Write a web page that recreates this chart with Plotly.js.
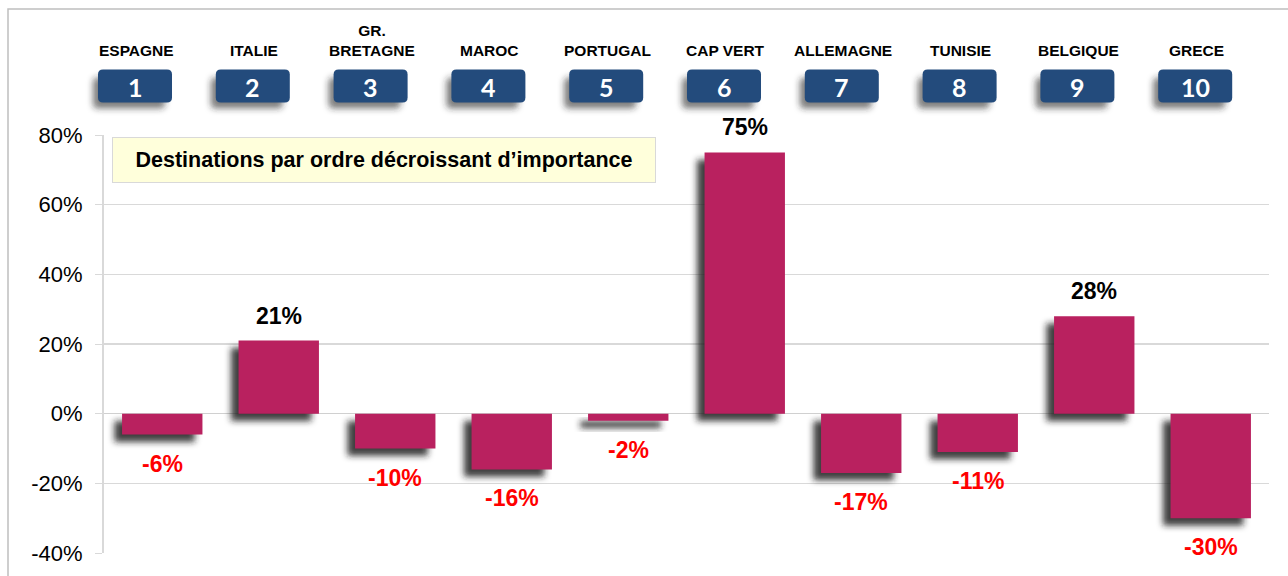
<!DOCTYPE html>
<html>
<head>
<meta charset="utf-8">
<script src="https://cdn.plot.ly/plotly-3.0.1.min.js"></script>
<style>
  html, body { margin: 0; padding: 0; background: #fff; }
  #chart { width: 1288px; height: 576px; }
</style>
</head>
<body>
<div id="chart"></div>
<script>
// destinations, ranked by importance
var countries = ['ESPAGNE', 'ITALIE', 'GR.<br>BRETAGNE', 'MAROC', 'PORTUGAL',
                 'CAP VERT', 'ALLEMAGNE', 'TUNISIE', 'BELGIQUE', 'GRECE'];
var ranks = ['1', '2', '3', '4', '5', '6', '7', '8', '9', '10'];
var changes = [-0.06, 0.21, -0.10, -0.16, -0.02, 0.75, -0.17, -0.11, 0.28, -0.30];
var tickVals = [-0.4, -0.2, 0, 0.2, 0.4, 0.6, 0.8];
var tickLabels = ['-40%', '-20%', '0%', '20%', '40%', '60%', '80%'];
var boxTitle = 'Destinations par ordre décroissant d\u2019importance';

var xs = countries.map(function (c, i) { return i; });

// plot area in pixels (used to place header boxes in paper units)
var W = 1288, H = 576;
var m = {l: 104, r: 19, t: 135, b: 23};
var pw = W - m.l - m.r, ph = H - m.t - m.b;
function px2x(p) { return (p - m.l) / pw; }
function px2y(p) { return (H - m.b - p) / ph; }

var FONT = '"Liberation Sans", Arial, sans-serif';
var barColor = '#b9215f';

// soft drop shadow, blurred after drawing
var shadow = {
    type: 'bar',
    x: xs,
    y: changes,
    base: -0.021,
    width: 0.69,
    offset: -0.345 - 0.065,
    marker: {color: 'rgba(30,30,30,0.85)', line: {width: 0}},
    hoverinfo: 'skip'
};

var bars = {
    type: 'bar',
    x: xs,
    y: changes,
    width: 0.69,
    marker: {color: barColor, line: {width: 0}},
    hoverinfo: 'skip'
};

var annotations = [];
var shapes = [];
var shadowShapes = [];

// frame around the whole chart
shapes.push({
    type: 'rect', xref: 'paper', yref: 'paper',
    x0: px2x(8), x1: px2x(1300), y0: px2y(590), y1: px2y(9),
    line: {color: '#bfbfbf', width: 1.5}, fillcolor: 'rgba(0,0,0,0)',
    layer: 'below'
});

function roundRect(cx, cy, w, h, r) {
    var x0 = cx - w / 2, x1 = cx + w / 2, y0 = cy - h / 2, y1 = cy + h / 2;
    function X(v) { return px2x(v); }
    function Y(v) { return px2y(v); }
    return 'M' + X(x0 + r) + ',' + Y(y0) +
        ' L' + X(x1 - r) + ',' + Y(y0) +
        ' Q' + X(x1) + ',' + Y(y0) + ' ' + X(x1) + ',' + Y(y0 + r) +
        ' L' + X(x1) + ',' + Y(y1 - r) +
        ' Q' + X(x1) + ',' + Y(y1) + ' ' + X(x1 - r) + ',' + Y(y1) +
        ' L' + X(x0 + r) + ',' + Y(y1) +
        ' Q' + X(x0) + ',' + Y(y1) + ' ' + X(x0) + ',' + Y(y1 - r) +
        ' L' + X(x0) + ',' + Y(y0 + r) +
        ' Q' + X(x0) + ',' + Y(y0) + ' ' + X(x0 + r) + ',' + Y(y0) + ' Z';
}

// header: country name + numbered rank box
countries.forEach(function (c, i) {
    var cx = 135 + i * 117.8;
    shadowShapes.push(shapes.length);
    shapes.push({
        type: 'path', xref: 'paper', yref: 'paper',
        path: roundRect(cx - 6, 86 + 7, 72, 31, 5),
        fillcolor: 'rgba(40,40,40,0.6)', line: {width: 0}
    });
    shapes.push({
        type: 'path', xref: 'paper', yref: 'paper',
        path: roundRect(cx, 86, 74, 33, 5),
        fillcolor: '#234b7c', line: {width: 0}
    });
    annotations.push({
        xref: 'paper', yref: 'paper', x: px2x(cx), y: px2y(87),
        text: '<b>' + ranks[i] + '</b>', showarrow: false,
        xanchor: 'center', yanchor: 'middle',
        font: {family: 'Lato, "Open Sans", sans-serif', size: 25, color: '#ffffff'}
    });
    annotations.push({
        xref: 'paper', yref: 'paper', x: px2x(cx + 1), y: px2y(61),
        text: '<b>' + c + '</b>', showarrow: false,
        xanchor: 'center', yanchor: 'bottom',
        font: {family: FONT, size: 15.5, color: '#000'}
    });
});

// value labels
changes.forEach(function (v, i) {
    var pct = Math.round(v * 100) + '%';
    annotations.push({
        x: i, y: v, xref: 'x', yref: 'y',
        text: '<b>' + pct + '</b>', showarrow: false,
        xanchor: 'center', yanchor: v < 0 ? 'top' : 'bottom',
        yshift: v < 0 ? -14 : 10,
        font: {family: FONT, size: 23, color: v < 0 ? '#ff0000' : '#000000'}
    });
});

// text box
annotations.push({
    xref: 'paper', yref: 'paper', x: px2x(112), y: px2y(137),
    xanchor: 'left', yanchor: 'top',
    text: '<b>' + boxTitle + '</b>', showarrow: false,
    width: 540, height: 42, align: 'center',
    bgcolor: '#ffffdb', bordercolor: '#d9d9d9', borderwidth: 1, borderpad: 1,
    font: {family: FONT, size: 21.5, color: '#000'}
});

var layout = {
    width: W, height: H,
    margin: m,
    paper_bgcolor: '#ffffff',
    plot_bgcolor: '#ffffff',
    showlegend: false,
    barmode: 'overlay',
    xaxis: {
        range: [-0.5, 9.5],
        showticklabels: false,
        showgrid: false,
        zeroline: false,
        ticks: ''
    },
    yaxis: {
        range: [-0.4, 0.8],
        tickmode: 'array',
        tickvals: tickVals,
        ticktext: tickLabels,
        showgrid: true,
        gridcolor: '#d9d9d9',
        gridwidth: 1.2,
        zeroline: true,
        zerolinecolor: '#d0d0d0',
        zerolinewidth: 1.2,
        showline: true,
        linecolor: '#d9d9d9',
        linewidth: 2,
        ticks: 'outside',
        ticklen: 7,
        tickcolor: '#d9d9d9',
        ticklabelstandoff: 8,
        tickfont: {family: FONT, size: 22, color: '#000'}
    },
    shapes: shapes,
    annotations: annotations
};

Plotly.newPlot('chart', [shadow, bars], layout, {displayModeBar: false, staticPlot: true})
.then(function (gd) {
    var NS = 'http://www.w3.org/2000/svg';
    var svg = gd.querySelector('svg.main-svg');
    var defs = svg.querySelector('defs') || svg.insertBefore(document.createElementNS(NS, 'defs'), svg.firstChild);
    var f = document.createElementNS(NS, 'filter');
    f.setAttribute('id', 'softshadow');
    f.setAttribute('x', '-50%'); f.setAttribute('y', '-50%');
    f.setAttribute('width', '200%'); f.setAttribute('height', '200%');
    var b = document.createElementNS(NS, 'feGaussianBlur');
    b.setAttribute('stdDeviation', '3');
    f.appendChild(b);
    defs.appendChild(f);

    // blur each shadow bar
    var traces = gd.querySelectorAll('.barlayer .trace');
    if (traces.length) {
        traces[0].querySelectorAll('path').forEach(function (p) {
            p.setAttribute('filter', 'url(#softshadow)');
        });
    }
    gd.querySelectorAll('.shapelayer path').forEach(function (p) {
        var idx = +p.getAttribute('data-index');
        if (shadowShapes.indexOf(idx) >= 0) p.setAttribute('filter', 'url(#softshadow)');
    });
});
</script>
</body>
</html>
